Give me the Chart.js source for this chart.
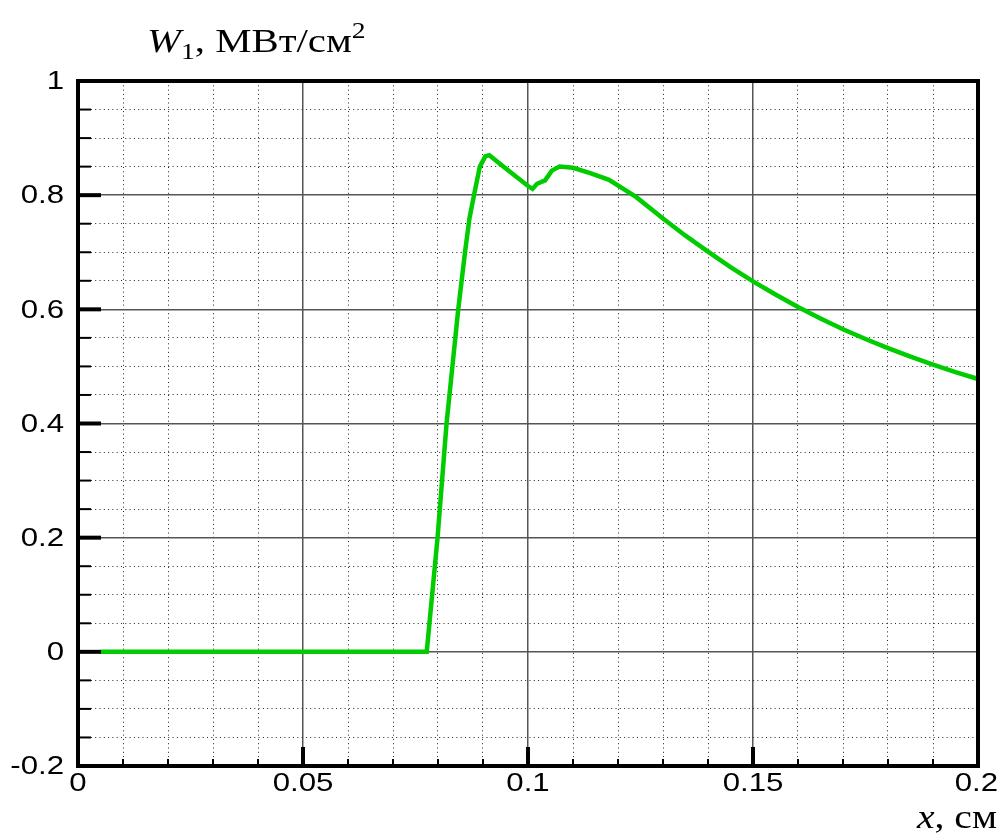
<!DOCTYPE html>
<html>
<head>
<meta charset="utf-8">
<script src="https://cdn.jsdelivr.net/npm/chart.js@4"></script>
<style>
  html, body { margin: 0; padding: 0; background: #fff; }
  #wrap { width: 1003px; height: 833px; }
</style>
</head>
<body>
<div id="wrap"><canvas id="w1Chart" width="1003" height="833"></canvas></div>
<script>
// ---- data ----
const xValues = [0.005, 0.0775, 0.0787, 0.0799, 0.0819, 0.0845, 0.0860, 0.0870, 0.0880, 0.0893, 0.0905,
                 0.0914, 0.095, 0.100, 0.101, 0.102, 0.1038, 0.1053, 0.107, 0.110, 0.114, 0.118,
                 0.124, 0.130, 0.135, 0.140, 0.145, 0.150, 0.155, 0.160, 0.165, 0.170, 0.175,
                 0.180, 0.185, 0.190, 0.195, 0.200];
const wValues = [0, 0, 0.10, 0.20, 0.40, 0.60, 0.70, 0.76, 0.80, 0.85, 0.868,
                 0.870, 0.847, 0.816, 0.811, 0.820, 0.826, 0.843, 0.850, 0.848, 0.838, 0.827,
                 0.797, 0.759, 0.729, 0.701, 0.674, 0.649, 0.626, 0.604, 0.584, 0.565, 0.548,
                 0.532, 0.517, 0.503, 0.490, 0.478];

const xTicks = [0, 0.05, 0.1, 0.15, 0.2];
const xTickLabels = ["0", "0.05", "0.1", "0.15", "0.2"];
const yTicks = [-0.2, 0, 0.2, 0.4, 0.6, 0.8, 1];
const yTickLabels = ["-0.2", "0", "0.2", "0.4", "0.6", "0.8", "1"];

const xMinorStep = 0.01;
const yMinorStep = 0.05;

function isMajor(v, step) {
    const r = v / step;
    return Math.abs(r - Math.round(r)) < 1e-6;
}

// draw text pieces (italic / sub / sup) stretched a bit horizontally like the original
function drawRich(ctx, parts, x, y, size, align, stretch) {
    const fontOf = p => {
        const s = (p.sub || p.sup) ? Math.round(size * 0.68) : size;
        return (p.italic ? "italic " : "") + s + "px 'Liberation Serif', 'Times New Roman', serif";
    };
    let total = 0;
    parts.forEach(p => { ctx.font = fontOf(p); p.w = ctx.measureText(p.t).width; total += p.w; });
    ctx.save();
    ctx.translate(align === "right" ? x - total * stretch : x, y);
    ctx.scale(stretch, 1);
    ctx.fillStyle = "#000";
    ctx.textBaseline = "alphabetic";
    ctx.textAlign = "left";
    let cx = 0;
    parts.forEach(p => {
        ctx.font = fontOf(p);
        let dy = 0;
        if (p.sub) dy = size * 0.2;
        if (p.sup) dy = -size * 0.4;
        ctx.fillText(p.t, cx, dy);
        cx += p.w;
    });
    ctx.restore();
}

function drawStretched(ctx, text, x, y, align, stretch) {
    const w = ctx.measureText(text).width * stretch;
    let left = x;
    if (align === "center") left = x - w / 2;
    if (align === "right") left = x - w;
    if (left + w > 998) left = 998 - w;
    ctx.save();
    ctx.translate(left, y);
    ctx.scale(stretch, 1);
    ctx.textAlign = "left";
    ctx.fillText(text, 0, 0);
    ctx.restore();
}

// ---------------------------------------------------
// FRAME, INWARD TICKS, LABELS
// ---------------------------------------------------
const framePlugin = {
    id: "frame",
    afterDraw(chart) {
        const ctx = chart.ctx;
        const a = chart.chartArea;
        const xs = chart.scales.x;
        const ys = chart.scales.y;

        ctx.save();
        ctx.strokeStyle = "#000";
        ctx.lineCap = "butt";

        // minor ticks
        ctx.lineWidth = 2;
        xs.ticks.forEach(t => {
            if (isMajor(t.value, 0.05)) return;
            const px = xs.getPixelForValue(t.value);
            ctx.beginPath(); ctx.moveTo(px, a.bottom); ctx.lineTo(px, a.bottom - 7); ctx.stroke();
        });
        ys.ticks.forEach(t => {
            if (isMajor(t.value, 0.2)) return;
            const py = ys.getPixelForValue(t.value);
            ctx.beginPath(); ctx.moveTo(a.left, py); ctx.lineTo(a.left + 13, py); ctx.stroke();
        });

        // major ticks
        ctx.lineWidth = 4;
        xTicks.forEach(v => {
            const px = xs.getPixelForValue(v);
            ctx.beginPath(); ctx.moveTo(px, a.bottom); ctx.lineTo(px, a.bottom - 19); ctx.stroke();
        });
        yTicks.forEach(v => {
            const py = ys.getPixelForValue(v);
            ctx.beginPath(); ctx.moveTo(a.left, py); ctx.lineTo(a.left + 23, py); ctx.stroke();
        });

        // frame
        ctx.lineWidth = 4;
        ctx.strokeRect(a.left, a.top, a.right - a.left, a.bottom - a.top);

        // tick labels
        ctx.fillStyle = "#000";
        ctx.font = "26px 'Liberation Sans', Arial, sans-serif";
        ctx.textBaseline = "middle";
        yTicks.forEach((v, i) => {
            drawStretched(ctx, yTickLabels[i], 64, ys.getPixelForValue(v) + 1, "right", 1.2);
        });
        xTicks.forEach((v, i) => {
            drawStretched(ctx, xTickLabels[i], xs.getPixelForValue(v), 784, "center", 1.2);
        });

        // axis titles
        drawRich(ctx, [
            { t: "W", italic: true },
            { t: "1", sub: true },
            { t: ", МВт/см" },
            { t: "2", sup: true }
        ], 147, 52, 34, "left", 1.2);
        drawRich(ctx, [
            { t: "x", italic: true },
            { t: ", см" }
        ], 997, 828, 33, "right", 1.2);

        ctx.restore();
    }
};

const ctx = document.getElementById("w1Chart");

new Chart(ctx, {
    type: "line",
    data: {
        datasets: [{
            data: xValues.map((x, i) => ({ x: x, y: wValues[i] })),
            borderColor: "#00cc00",
            borderWidth: 4.5,
            pointRadius: 0,
            tension: 0,
            fill: false
        }]
    },
    options: {
        responsive: false,
        animation: false,
        devicePixelRatio: 1,
        layout: { padding: { top: 81, right: 25, left: 0, bottom: 0 } },
        plugins: {
            legend: { display: false },
            tooltip: { enabled: false },
            title: { display: false }
        },
        scales: {
            x: {
                type: "linear",
                min: 0,
                max: 0.2,
                afterFit: s => { s.height = 67; },
                ticks: { display: false, stepSize: xMinorStep },
                grid: {
                    drawTicks: false,
                    color: c => isMajor(c.tick.value, 0.05) ? "#555" : "#222",
                    lineWidth: c => isMajor(c.tick.value, 0.05) ? 1.5 : 1
                },
                border: {
                    display: false,
                    dash: c => isMajor(c.tick.value, 0.05) ? [] : [1, 3.3]
                }
            },
            y: {
                type: "linear",
                min: -0.2,
                max: 1,
                afterFit: s => { s.width = 78; },
                ticks: { display: false, stepSize: yMinorStep },
                grid: {
                    drawTicks: false,
                    color: c => isMajor(c.tick.value, 0.2) ? "#555" : "#222",
                    lineWidth: c => isMajor(c.tick.value, 0.2) ? 1.5 : 1
                },
                border: {
                    display: false,
                    dash: c => isMajor(c.tick.value, 0.2) ? [] : [1, 3.3]
                }
            }
        }
    },
    plugins: [framePlugin]
});
</script>
</body>
</html>
